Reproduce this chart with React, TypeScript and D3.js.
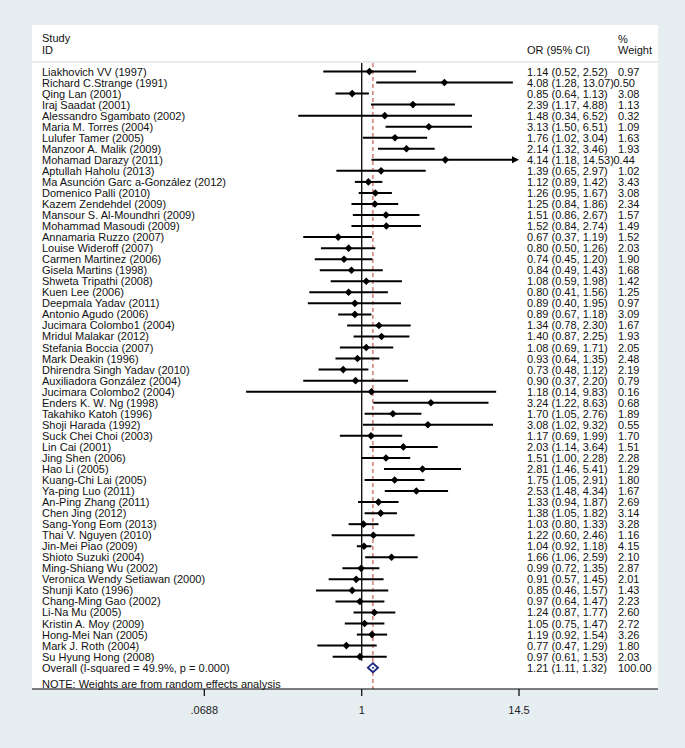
import React from "react";
import * as d3 from "d3";

const studies: string[] = [
  "Liakhovich VV (1997)", "Richard C.Strange (1991)", "Qing Lan (2001)", "Iraj Saadat (2001)",
  "Alessandro Sgambato (2002)", "Maria M. Torres (2004)", "Lulufer Tamer (2005)", "Manzoor A. Malik (2009)",
  "Mohamad Darazy (2011)", "Aptullah Haholu (2013)", "Ma Asunción Garc a-González (2012)", "Domenico Palli (2010)",
  "Kazem Zendehdel (2009)", "Mansour S. Al-Moundhri (2009)", "Mohammad Masoudi (2009)", "Annamaria Ruzzo (2007)",
  "Louise Wideroff (2007)", "Carmen Martinez (2006)", "Gisela Martins (1998)", "Shweta Tripathi (2008)",
  "Kuen Lee (2006)", "Deepmala Yadav (2011)", "Antonio Agudo (2006)", "Jucimara Colombo1 (2004)",
  "Mridul Malakar (2012)", "Stefania Boccia (2007)", "Mark Deakin (1996)", "Dhirendra Singh Yadav (2010)",
  "Auxiliadora González (2004)", "Jucimara Colombo2 (2004)", "Enders K. W. Ng (1998)", "Takahiko Katoh (1996)",
  "Shoji Harada (1992)", "Suck Chei Choi (2003)", "Lin Cai (2001)", "Jing Shen (2006)",
  "Hao Li (2005)", "Kuang-Chi Lai (2005)", "Ya-ping Luo (2011)", "An-Ping Zhang (2011)",
  "Chen Jing (2012)", "Sang-Yong Eom (2013)", "Thai V. Nguyen (2010)", "Jin-Mei Piao (2009)",
  "Shioto Suzuki (2004)", "Ming-Shiang Wu (2002)", "Veronica Wendy Setiawan (2000)", "Shunji Kato (1996)",
  "Chang-Ming Gao (2002)", "Li-Na Mu (2005)", "Kristin A. Moy (2009)", "Hong-Mei Nan (2005)",
  "Mark J. Roth (2004)", "Su Hyung Hong (2008)",
];
const orValues: number[] = [
  1.14, 4.08, 0.85, 2.39, 1.48, 3.13, 1.76, 2.14, 4.14, 1.39, 1.12, 1.26, 1.25, 1.51, 1.52, 0.67, 0.80, 0.74,
  0.84, 1.08, 0.80, 0.89, 0.89, 1.34, 1.40, 1.08, 0.93, 0.73, 0.90, 1.18, 3.24, 1.70, 3.08, 1.17, 2.03, 1.51,
  2.81, 1.75, 2.53, 1.33, 1.38, 1.03, 1.22, 1.04, 1.66, 0.99, 0.91, 0.85, 0.97, 1.24, 1.05, 1.19, 0.77, 0.97,
];
const lowerCI: number[] = [
  0.52, 1.28, 0.64, 1.17, 0.34, 1.50, 1.02, 1.32, 1.18, 0.65, 0.89, 0.95, 0.84, 0.86, 0.84, 0.37, 0.50, 0.45,
  0.49, 0.59, 0.41, 0.40, 0.67, 0.78, 0.87, 0.69, 0.64, 0.48, 0.37, 0.14, 1.22, 1.05, 1.02, 0.69, 1.14, 1.00,
  1.46, 1.05, 1.48, 0.94, 1.05, 0.80, 0.60, 0.92, 1.06, 0.72, 0.57, 0.46, 0.64, 0.87, 0.75, 0.92, 0.47, 0.61,
];
const upperCI: number[] = [
  2.52, 13.07, 1.13, 4.88, 6.52, 6.51, 3.04, 3.46, 14.53, 2.97, 1.42, 1.67, 1.86, 2.67, 2.74, 1.19, 1.26, 1.20,
  1.43, 1.98, 1.56, 1.95, 1.18, 2.30, 2.25, 1.71, 1.35, 1.12, 2.20, 9.83, 8.63, 2.76, 9.32, 1.99, 3.64, 2.28,
  5.41, 2.91, 4.34, 1.87, 1.82, 1.33, 2.46, 1.18, 2.59, 1.35, 1.45, 1.57, 1.47, 1.77, 1.47, 1.54, 1.29, 1.53,
];
const weights: number[] = [
  0.97, 0.50, 3.08, 1.13, 0.32, 1.09, 1.63, 1.93, 0.44, 1.02, 3.43, 3.08, 2.34, 1.57, 1.49, 1.52, 2.03, 1.90,
  1.68, 1.42, 1.25, 0.97, 3.09, 1.67, 1.93, 2.05, 2.48, 2.19, 0.79, 0.16, 0.68, 1.89, 0.55, 1.70, 1.51, 2.28,
  1.29, 1.80, 1.67, 2.69, 3.14, 3.28, 1.16, 4.15, 2.10, 2.87, 2.01, 1.43, 2.23, 2.60, 2.72, 3.26, 1.80, 2.03,
];
const overallLabel = "Overall  (I-squared = 49.9%, p = 0.000)";
const overallOR = 1.21;
const overallLo = 1.11;
const overallHi = 1.32;
const overallWeight = 100.0;
const tickValues: number[] = [0.0688, 1, 14.5];
const tickLabels: string[] = [".0688", "1", "14.5"];

const W = 685;
const H = 748;
const FONT = "'Liberation Sans', Arial, sans-serif";

export default function App() {
  const x = d3.scaleLog().domain([0.0688, 14.5]).range([204.3, 519]);
  const nRows = studies.length + 1;
  const y = d3.scaleLinear().domain([0, nRows - 1]).range([71.5, 667.7]);
  const fmt = d3.format(".2f");
  const [xmin, xmax] = x.domain();
  const panelL = 32, panelR = 658, panelT = 25, axisY = 689;
  const textX = 42, orX = 527, wX = 618;
  const r = 3.8;

  return (
    <svg width={W} height={H} style={{ position: "absolute", left: 0, top: 0 }} fontFamily={FONT}>
      <rect x={0} y={0} width={W} height={H} fill="#e7eef2" />
      <rect x={panelL} y={panelT} width={panelR - panelL} height={axisY - panelT} fill="#ffffff" />
      {/* header */}
      <g fontSize={11} fill="#111">
        <text x={textX} y={38 + 4}>Study</text>
        <text x={textX} y={49.5 + 4}>ID</text>
        <text x={orX} y={50 + 4}>OR (95% CI)</text>
        <text x={wX} y={38.5 + 4}>%</text>
        <text x={wX} y={50 + 4}>Weight</text>
      </g>
      <line x1={panelL} x2={panelR} y1={62} y2={62} stroke="#d0d4d8" strokeWidth={1} />
      {/* null line */}
      <line x1={x(1)} x2={x(1)} y1={63} y2={y(nRows - 1) - 7} stroke="#000" strokeWidth={1.3} />
      {/* overall dashed line */}
      <line x1={x(overallOR)} x2={x(overallOR)} y1={63} y2={axisY} stroke="#c0392b" strokeWidth={1} strokeDasharray="4,3" />
      {/* studies */}
      {studies.map((s, i) => {
        const yy = y(i);
        const lo = Math.max(lowerCI[i], xmin);
        const hi = Math.min(upperCI[i], xmax);
        const arrowR = upperCI[i] > xmax;
        const arrowL = lowerCI[i] < xmin;
        const cx = x(orValues[i]);
        const ciText = `${fmt(orValues[i])} (${fmt(lowerCI[i])}, ${fmt(upperCI[i])})`;
        const wx = upperCI[i] >= 10 ? wX - 4.5 : wX;
        return (
          <g key={s}>
            <line x1={x(lo)} x2={arrowR ? x(hi) - 5 : x(hi)} y1={yy} y2={yy} stroke="#000" strokeWidth={2} />
            {arrowR && (
              <path d={`M${x(hi)},${yy} L${x(hi) - 7},${yy - 3.5} L${x(hi) - 7},${yy + 3.5} Z`} fill="#000" />
            )}
            {arrowL && (
              <path d={`M${x(lo)},${yy} L${x(lo) + 7},${yy - 3.5} L${x(lo) + 7},${yy + 3.5} Z`} fill="#000" />
            )}
            <path d={`M${cx},${yy - r} L${cx + r},${yy} L${cx},${yy + r} L${cx - r},${yy} Z`} fill="#000" />
            <text x={textX} y={yy + 4} fontSize={11} fill="#111">{s}</text>
            <text x={orX} y={yy + 4} fontSize={11} fill="#111">{ciText}</text>
            <text x={wx} y={yy + 4} fontSize={11} fill="#111">{fmt(weights[i])}</text>
          </g>
        );
      })}
      {/* overall */}
      {(() => {
        const yy = y(nRows - 1);
        const a = x(overallLo), b = x(overallHi), c = x(overallOR);
        return (
          <g>
            <path d={`M${a},${yy} L${c},${yy - 4.5} L${b},${yy} L${c},${yy + 4.5} Z`} fill="#fff" stroke="#1a237e" strokeWidth={1.8} />
            <circle cx={c} cy={yy} r={1} fill="#1a237e" />
            <text x={textX} y={yy + 4} fontSize={11} fill="#111">{overallLabel}</text>
            <text x={orX} y={yy + 4} fontSize={11} fill="#111">{`${fmt(overallOR)} (${fmt(overallLo)}, ${fmt(overallHi)})`}</text>
            <text x={wX} y={yy + 4} fontSize={11} fill="#111">{fmt(overallWeight)}</text>
          </g>
        );
      })()}
      <text x={textX} y={684 + 4} fontSize={11} fill="#111">NOTE: Weights are from random effects analysis</text>
      {/* axis */}
      <line x1={panelL} x2={panelR} y1={axisY} y2={axisY} stroke="#000" strokeWidth={1.2} />
      {tickValues.map((t, i) => (
        <g key={t}>
          <line x1={x(t)} x2={x(t)} y1={axisY} y2={axisY + 7} stroke="#000" strokeWidth={1.2} />
          <text x={x(t)} y={714} fontSize={11} textAnchor="middle" fill="#222">{tickLabels[i]}</text>
        </g>
      ))}
    </svg>
  );
}
